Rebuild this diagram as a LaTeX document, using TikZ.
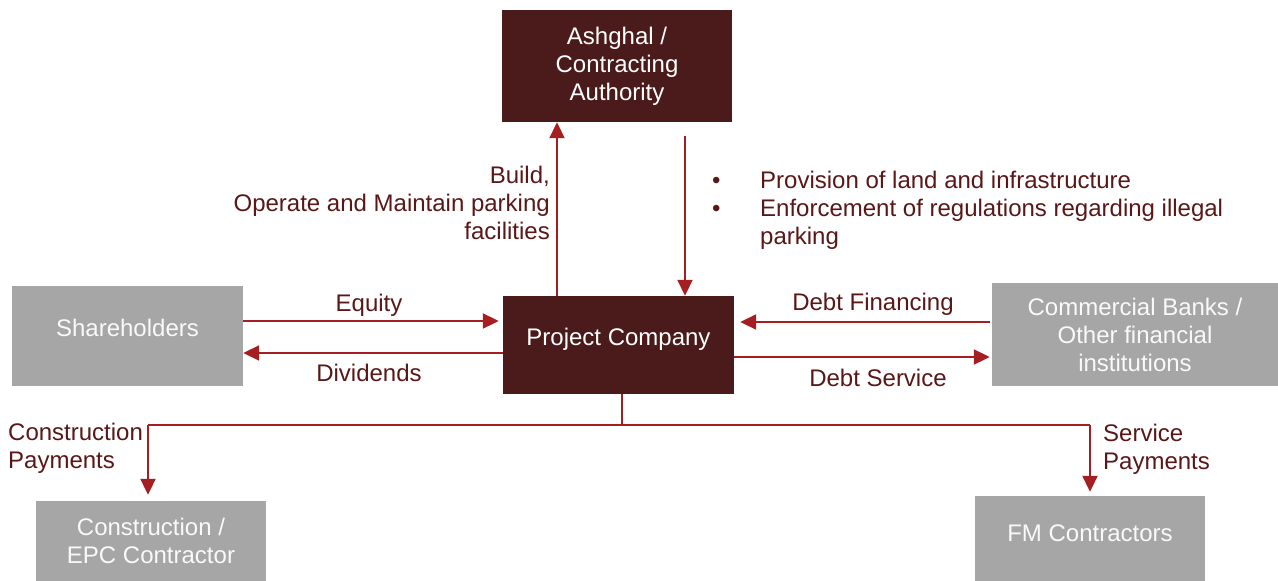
\documentclass[tikz,border=0pt]{standalone}
\usepackage{fontspec}
\setmainfont{Liberation Sans}
\usetikzlibrary{arrows.meta,calc}
\definecolor{darkbox}{HTML}{4A1B1A}
\definecolor{graybox}{HTML}{A6A6A6}
\definecolor{linered}{HTML}{A51E22}
\definecolor{txtred}{HTML}{5A1717}
\newcommand{\bulitem}[1]{\makebox[52pt][l]{\hspace{4pt}\textbullet}#1}
\begin{document}
\begin{tikzpicture}[x=1pt,y=-1pt,
  every node/.style={font=\fontsize{24}{28}\selectfont, inner sep=0pt},
  darknode/.style={fill=darkbox, text=white, align=center},
  graynode/.style={fill=graybox, text=white!95!gray, align=center},
  flow/.style={draw=linered, line width=2pt, -{Triangle[length=16pt,width=15pt]}},
  plain/.style={draw=linered, line width=2pt},
  lbl/.style={text=txtred}
]
\path[use as bounding box] (0,0) rectangle (1278,581);
% boxes
\node[darknode, minimum width=230pt, minimum height=112pt] (ash) at (617,66) {Ashghal /\\Contracting\\Authority};
\node[darknode, minimum width=231pt, minimum height=98pt] (pc) at (618.5,345) {\raisebox{17pt}{Project Company}};
\node[graynode, minimum width=231pt, minimum height=100pt] (sh) at (127.5,336) {\raisebox{16pt}{Shareholders}};
\node[graynode, minimum width=286pt, minimum height=103pt] (bank) at (1135,334.5) {Commercial Banks /\\Other financial\\institutions};
\node[graynode, minimum width=230pt, minimum height=80pt] (epc) at (151,541) {Construction /\\EPC Contractor};
\node[graynode, minimum width=230pt, minimum height=85pt] (fm) at (1090,538.5) {\raisebox{11pt}{FM Contractors}};
% coordinates
\coordinate (dtop) at (685,136);
\coordinate (split) at (622,425);
\coordinate (lc) at (148,425);
\coordinate (rc) at (1090,425);
% connectors
\draw[flow] (pc.north -| 557,0) -- (ash.south -| 557,0);
\draw[flow] (dtop) -- (pc.north -| 685,0);
\draw[flow] (sh.east |- 0,321) -- ($(pc.west |- 0,321)+(-4,0)$);
\draw[flow] (pc.west |- 0,353) -- (sh.east |- 0,353);
\draw[flow] ($(bank.west |- 0,322)+(-2,0)$) -- ($(pc.east |- 0,322)+(6,0)$);
\draw[flow] (pc.east |- 0,357) -- ($(bank.west |- 0,357)+(-2,0)$);
\draw[plain] (pc.south -| split) -- (split);
\draw[plain] (lc) -- (rc);
\draw[flow] (lc) -- ($(epc.north -| lc)+(0,-6)$);
\draw[flow] (rc) -- ($(fm.north -| rc)+(0,-4)$);
% labels
\node[lbl, anchor=east, align=right] (lbuild) at (550,203) {Build,\\Operate and Maintain parking\\facilities};
\node[lbl, anchor=west, align=left] (lbul) at (708,210.5) {%
  \bulitem{Provision of land and infrastructure}\\
  \bulitem{Enforcement of regulations regarding illegal}\\
  \hspace*{52pt}parking};
\node[lbl] (leq) at (369,305) {Equity};
\node[lbl] (ldiv) at (369,373) {Dividends};
\node[lbl] (ldf) at (873,304) {Debt Financing};
\node[lbl] (lds) at (878,378) {Debt Service};
\node[lbl, anchor=west, align=left] (lcp) at (8,448) {Construction\\Payments};
\node[lbl, anchor=west, align=left] (lsp) at (1103,449) {Service\\Payments};
\end{tikzpicture}
\end{document}
